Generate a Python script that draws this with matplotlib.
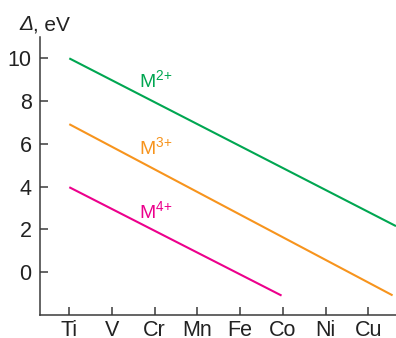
import matplotlib
matplotlib.use("Agg")
import matplotlib.pyplot as plt

# Crystal-field splitting vs. 3d metal, for three oxidation states
metals = ["Ti", "V", "Cr", "Mn", "Fe", "Co", "Ni", "Cu"]

# line endpoints, x given in metal-index units (0 = Ti)
m2_x = [0, 7.65]
m2_y = [10.0, 2.15]
m3_x = [0, 7.57]
m3_y = [6.92, -1.09]
m4_x = [0, 4.97]
m4_y = [3.97, -1.1]

series_labels = [r"M$^{2{+}}$", r"M$^{3{+}}$", r"M$^{4{+}}$"]
label_y = [8.97, 5.84, 2.85]
colors = ["#00A651", "#F7941D", "#EC008C"]

plt.rcParams["font.family"] = ["Liberation Sans", "DejaVu Sans"]
plt.rcParams["mathtext.fontset"] = "custom"
plt.rcParams["mathtext.rm"] = "Liberation Sans"
plt.rcParams["mathtext.it"] = "Liberation Sans:italic"

axis_col = "#3a3a3a"
text_col = "#222222"

fig = plt.figure(figsize=(3.96, 3.38), dpi=100)
ax = fig.add_axes([40 / 396, 23.2 / 338, 356 / 396, 277.8 / 338])

for xs, ys, c in zip([m2_x, m3_x, m4_x], [m2_y, m3_y, m4_y], colors):
    ax.plot(xs, ys, color=c, lw=1.5, solid_capstyle="butt")

for lab, y, c in zip(series_labels, label_y, colors):
    ax.text(1.63, y, lab, color=c, fontsize=14, ha="left", va="center")

ax.set_xlim(-0.686, 7.65)
ax.set_ylim(-2, 11)
ax.set_xticks(range(len(metals)))
ax.set_xticklabels(metals)
ax.set_yticks([0, 2, 4, 6, 8, 10])

for side in ["top", "right"]:
    ax.spines[side].set_visible(False)
for side in ["left", "bottom"]:
    ax.spines[side].set_color(axis_col)
    ax.spines[side].set_linewidth(1.1)

ax.tick_params(direction="in", length=6, width=1.1, color=axis_col,
               labelsize=15.5, labelcolor=text_col)
ax.tick_params(axis="x", pad=4)
ax.tick_params(axis="y", pad=6)

# axis title: italic Delta followed by the unit
t = fig.text(19 / 396, 1 - 25 / 338, "Δ", fontsize=15, fontstyle="italic",
             color=text_col, ha="left", va="center")
ax.annotate(", eV", xy=(1, 0), xycoords=t, fontsize=15, color=text_col,
            ha="left", va="bottom")

fig.savefig("out.png", dpi=100)
